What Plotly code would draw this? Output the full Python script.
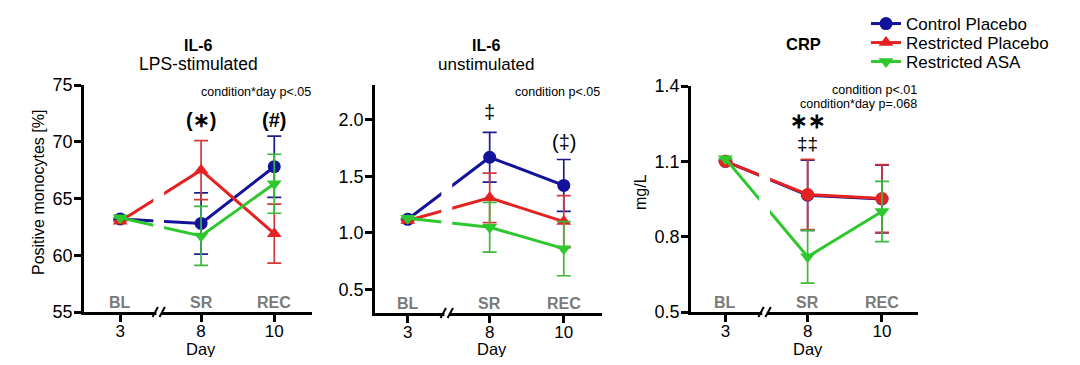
import plotly.graph_objects as go

# ---------------- data ----------------
days = ["3", "8", "10"]
phases = ["BL", "SR", "REC"]
series_names = ["Control Placebo", "Restricted Placebo", "Restricted ASA"]

# IL-6 LPS-stimulated (% positive monocytes)
lps_control = [63.2, 62.8, 67.8]
lps_control_err = [None, 2.7, 2.7]
lps_restricted = [63.0, 67.5, 61.9]
lps_restricted_err = [None, 2.6, 2.6]
lps_asa = [63.3, 61.7, 66.3]
lps_asa_err = [None, 2.6, 2.6]

# IL-6 unstimulated
uns_control = [1.12, 1.67, 1.42]
uns_control_err = [None, 0.22, 0.23]
uns_restricted = [1.11, 1.31, 1.10]
uns_restricted_err = [None, 0.22, 0.23]
uns_asa = [1.13, 1.05, 0.86]
uns_asa_err = [None, 0.22, 0.24]

# CRP (mg/L)
crp_control = [1.10, 0.965, 0.95]
crp_control_err = [None, 0.14, 0.135]
crp_restricted = [1.10, 0.968, 0.952]
crp_restricted_err = [None, 0.14, 0.135]
crp_asa = [1.11, 0.72, 0.90]
crp_asa_err = [None, 0.105, 0.12]

# ---------------- styling ----------------
FONT = "Arial, Liberation Sans, sans-serif"
COLORS = ["#12129a", "#e42222", "#2ec82e"]
ERR_COLORS = ["#1c1c8c", "#d23a3a", "#3cb83c"]
SYMBOLS = ["circle", "triangle-up", "triangle-down"]
xpos = [0, 1.05, 2]          # horizontal placement of the three days (broken axis)
BREAK = 0.5

# page body has an 8px margin: figure drawn at (8, 8) inside the 1080x365 window
OFF = 8
W, H = 1080 - 2 * OFF, 365 - 2 * OFF
def px_x(s): return (s - OFF) / W
def px_y(s): return 1 - (s - OFF) / H

panels = [
    dict(vals=[lps_control, lps_restricted, lps_asa],
         errs=[lps_control_err, lps_restricted_err, lps_asa_err],
         dom=(84, 312, 85, 312), xr=[-0.47, 2.49], yr=[55, 75],
         ticks=[55, 60, 65, 70, 75], tfmt=None, symbols=SYMBOLS),
    dict(vals=[uns_control, uns_restricted, uns_asa],
         errs=[uns_control_err, uns_restricted_err, uns_asa_err],
         dom=(375, 602, 85, 313), xr=[-0.42, 2.49], yr=[0.29, 2.31],
         ticks=[0.5, 1.0, 1.5, 2.0], tfmt=".1f", symbols=SYMBOLS),
    dict(vals=[crp_control, crp_restricted, crp_asa],
         errs=[crp_control_err, crp_restricted_err, crp_asa_err],
         dom=(691, 918, 86, 312), xr=[-0.44, 2.46], yr=[0.5, 1.4],
         ticks=[0.5, 0.8, 1.1, 1.4], tfmt=".1f",
         symbols=["circle", "circle", "triangle-down"]),
]

fig = go.Figure()
layout = dict(width=W, height=H, margin=dict(l=0, r=0, t=0, b=0, autoexpand=False),
              paper_bgcolor="white", plot_bgcolor="white",
              font=dict(family=FONT, color="black"), showlegend=True)
shapes, annotations = [], []
legend_ids = ["legend", "legend2", "legend3"]

def ann(text, x, y, size, xanchor="center", bold=False, xref="paper", angle=0, color="black"):
    annotations.append(dict(text=("<b>%s</b>" % text) if bold else text,
                            x=x, y=px_y(y), xref=xref, yref="paper", textangle=angle,
                            showarrow=False, font=dict(size=size, color=color),
                            xanchor=xanchor, yanchor="middle"))

for i, p in enumerate(panels):
    n = "" if i == 0 else str(i + 1)
    xa, ya = "x" + n, "y" + n
    l, r, t, b = p["dom"]
    for k in range(3):
        fig.add_trace(go.Scatter(
            x=xpos, y=p["vals"][k], xaxis=xa, yaxis=ya,
            mode="lines+markers", name=series_names[k], showlegend=(i == 0),
            legend=legend_ids[k],
            line=dict(color=COLORS[k], width=3),
            marker=dict(symbol=p["symbols"][k], size=13, color=COLORS[k],
                        line=dict(width=0)),
            error_y=dict(type="data", array=p["errs"][k], visible=True,
                         color=ERR_COLORS[k], thickness=1.7, width=7),
        ))
    layout["xaxis" + n] = dict(
        domain=[px_x(l), px_x(r)], range=p["xr"], anchor=ya, automargin=False,
        tickvals=xpos, ticktext=days, showgrid=False, zeroline=False,
        showline=True, linecolor="black", linewidth=2.5,
        ticks="outside", ticklen=7, tickwidth=2.5, tickcolor="black",
        ticklabelstandoff=-5, tickfont=dict(size=17))
    layout["yaxis" + n] = dict(
        domain=[px_y(b), px_y(t)], range=p["yr"], anchor=xa, automargin=False,
        tickvals=p["ticks"], tickformat=p["tfmt"], showgrid=False, zeroline=False,
        showline=True, linecolor="black", linewidth=2.5,
        ticks="outside", ticklen=7, tickwidth=2.5, tickcolor="black",
        ticklabelstandoff=-2, tickfont=dict(size=18))
    # gap in the BL -> SR lines
    shapes.append(dict(type="rect", xref=xa, yref="paper", layer="above",
                       x0=BREAK - 0.07, x1=BREAK + 0.07,
                       y0=px_y(b - 4), y1=px_y(t), fillcolor="white", line=dict(width=0)))
    # axis break marks
    shapes.append(dict(type="rect", xref=xa, yref="paper", layer="above",
                       x0=BREAK - 0.03, x1=BREAK + 0.03,
                       y0=px_y(b + 3), y1=px_y(b - 3), fillcolor="white", line=dict(width=0)))
    for off in (-0.045, 0.045):
        shapes.append(dict(type="line", xref=xa, yref="paper", layer="above",
                           x0=BREAK + off - 0.035, x1=BREAK + off + 0.035,
                           y0=px_y(b + 5), y1=px_y(b - 5),
                           line=dict(color="black", width=2)))
    # phase labels
    for k in range(3):
        ann(phases[k], xpos[k], b - 10, 16, bold=True, xref=xa, color="#7a7a7a")
    # x-axis title
    ann("Day", px_x((l + r) / 2 + 3), 349, 16.5)

# y-axis titles
ann("Positive monocytes [%]", px_x(38), 193, 16, angle=-90)
ann("mg/L", px_x(641), 192, 16, angle=-90)

# titles
ann("IL-6", px_x(198), 45, 16, bold=True)
ann("LPS-stimulated", px_x(198), 64, 17.5)
ann("IL-6", px_x(486), 45, 16, bold=True)
ann("unstimulated", px_x(486), 64, 17)
ann("CRP", px_x(803), 44, 16.5, bold=True)

# statistics
ann("condition*day p&lt;.05", px_x(313), 92, 12.5, xanchor="right")
ann("condition p&lt;.05", px_x(602), 92, 12.5, xanchor="right")
ann("condition p&lt;.01", px_x(919), 90, 12.5, xanchor="right")
ann("condition*day p=.068", px_x(919), 104, 12.5, xanchor="right")

ann("(∗)", xpos[1], 120, 20, bold=True, xref="x")
ann("(#)", xpos[2], 120, 20, bold=True, xref="x")
ann("‡", xpos[1], 112, 20, xref="x2")
ann("(‡)", xpos[2], 142, 20, xref="x2")
ann("∗∗", xpos[1], 120, 21, bold=True, xref="x3")
ann("‡‡", xpos[1], 143, 19, xref="x3")

layout["shapes"] = shapes
layout["annotations"] = annotations
for k, lid in enumerate(legend_ids):
    layout[lid] = dict(x=px_x(866), y=px_y(24 + 19 * k), xanchor="left", yanchor="middle",
                       font=dict(size=17), itemwidth=30, bgcolor="rgba(0,0,0,0)")
fig.update_layout(**layout)
fig.write_html("out.html")
